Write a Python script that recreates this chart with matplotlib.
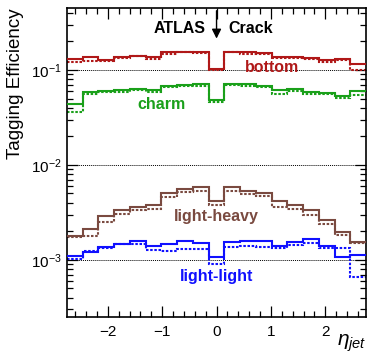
import matplotlib
matplotlib.use("Agg")
import matplotlib.pyplot as plt
from matplotlib.ticker import MultipleLocator, LogLocator, NullFormatter
import numpy as np

plt.rcParams["font.family"] = ["Liberation Sans", "DejaVu Sans"]
plt.rcParams["mathtext.fontset"] = "custom"
plt.rcParams["mathtext.rm"] = "Liberation Sans"
plt.rcParams["mathtext.it"] = "Liberation Sans:italic"

# 19 eta bins between -2.75 and 2.75
eta_edges = np.linspace(-2.75, 2.75, 20)

bottom_solid = [0.1306, 0.136, 0.127, 0.137, 0.1415, 0.136, 0.1535, 0.156, 0.156, 0.1033,
                0.156, 0.1535, 0.151, 0.137, 0.137, 0.1337, 0.1264, 0.1306, 0.1166]
bottom_dotted = [0.1224, 0.1244, 0.1256, 0.1337, 0.1392, 0.1316, 0.1485, 0.1535, 0.151, 0.1008,
                 0.1535, 0.1485, 0.146, 0.1337, 0.1327, 0.1306, 0.1224, 0.1264, 0.1008]

charm_solid = [0.0442, 0.0582, 0.0601, 0.0611, 0.0631, 0.0611, 0.0684, 0.0695, 0.0706, 0.0487,
               0.0718, 0.0706, 0.0684, 0.0611, 0.0631, 0.0582, 0.0573, 0.0528, 0.0601]
charm_dotted = [0.0358, 0.0554, 0.0582, 0.0591, 0.0621, 0.0582, 0.0662, 0.0684, 0.0684, 0.0464,
                0.0695, 0.0684, 0.0662, 0.0564, 0.0601, 0.0554, 0.0554, 0.0511, 0.0545]

lh_solid = [0.00180, 0.00210, 0.00290, 0.00336, 0.00364, 0.00376, 0.00511, 0.00559, 0.00591, 0.00415,
            0.00586, 0.00537, 0.00503, 0.00415, 0.00382, 0.00336, 0.00264, 0.00197, 0.00155]
lh_dotted = [0.00172, 0.00179, 0.00253, 0.00305, 0.00336, 0.00347, 0.00457, 0.00520, 0.00537, 0.00376,
             0.00532, 0.00495, 0.00472, 0.00364, 0.00347, 0.00295, 0.00239, 0.00182, 0.00152]

ll_solid = [0.00110, 0.00120, 0.00138, 0.00147, 0.00157, 0.00141, 0.00147, 0.00156, 0.00152, 0.00106,
            0.00155, 0.00158, 0.00158, 0.00140, 0.00155, 0.00165, 0.00140, 0.00108, 0.00112]
ll_dotted = [0.00102, 0.00125, 0.00134, 0.00145, 0.00147, 0.00126, 0.00123, 0.00130, 0.00129, 0.000893,
             0.00136, 0.00140, 0.00138, 0.00134, 0.00144, 0.00152, 0.00132, 0.00132, 0.000657]

series = [
    ("bottom", bottom_solid, bottom_dotted, "#b01818", (1.02, 0.107)),
    ("charm", charm_solid, charm_dotted, "#1aa01a", (-1.02, 0.0431)),
    ("light-heavy", lh_solid, lh_dotted, "#7a4a40", (0.0, 0.00284)),
    ("light-light", ll_solid, ll_dotted, "#1010ff", (0.0, 0.000662)),
]

fig = plt.figure(figsize=(3.74, 3.61), dpi=100)
ax = fig.add_axes([0.179, 0.122, 0.800, 0.856])
ax.set_yscale("log")
ax.set_xlim(-2.75, 2.75)
ax.set_ylim(2.5e-4, 0.45)

# reference lines at each decade
for level in [1e-1, 1e-2, 1e-3]:
    ax.axhline(level, color="black", lw=0.7, ls=(0, (1, 1)), zorder=1)

for name, solid, dotted, color, (tx, ty) in series:
    ax.stairs(dotted, eta_edges, baseline=None, color=color, lw=1.5, ls=(0, (1.2, 0.8)), zorder=2)
    ax.stairs(solid, eta_edges, baseline=None, color=color, lw=1.5, zorder=3)
    ax.text(tx, ty, name, color=color, fontsize=11.5, fontweight="bold",
            ha="center", va="center", zorder=4)

# crack marker
ax.annotate("", xy=(0, 0.2), xytext=(0, 0.45),
            arrowprops=dict(arrowstyle="-|>", color="black", lw=1.0, mutation_scale=14))
ax.text(-0.2, 0.275, "ATLAS", fontsize=11.5, fontweight="bold", ha="right", va="center")
ax.text(0.21, 0.275, "Crack", fontsize=11.5, fontweight="bold", ha="left", va="center")

ax.xaxis.set_major_locator(MultipleLocator(1))
ax.xaxis.set_minor_locator(MultipleLocator(0.2))
ax.yaxis.set_major_locator(LogLocator(base=10, numticks=10))
ax.yaxis.set_minor_locator(LogLocator(base=10, subs=np.arange(2, 10), numticks=20))
ax.yaxis.set_minor_formatter(NullFormatter())
ax.tick_params(which="both", direction="in", top=True, right=True, labelsize=11)
ax.tick_params(which="major", length=8, width=0.9)
ax.tick_params(which="minor", length=4, width=0.9)
ax.tick_params(axis="x", pad=6)
for sp in ax.spines.values():
    sp.set_linewidth(1.2)

ax.set_ylabel("Tagging Efficiency", fontsize=13.5, loc="top", labelpad=5)
ax.text(1.0, -0.05, r"$\eta_{jet}$", transform=ax.transAxes, fontsize=15,
        ha="right", va="top")

fig.savefig("out.png", dpi=100)
